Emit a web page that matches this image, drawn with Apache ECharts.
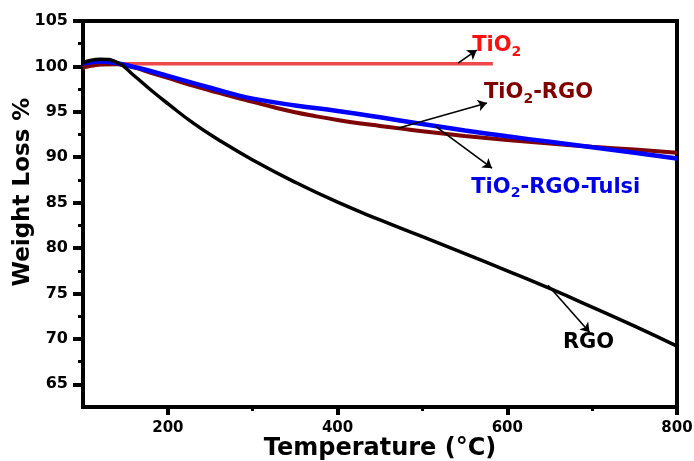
<!DOCTYPE html>
<html><head><meta charset="utf-8">
<script src="https://cdn.jsdelivr.net/npm/echarts@6/dist/echarts.min.js"></script>
<style>html,body{margin:0;padding:0;background:#fff}#c{width:694px;height:461px}</style>
</head><body><div id="c"></div>
<script>
// ---- data ----
const xTickLabels = [200, 400, 600, 800];
const xMinorTicks = [300, 500, 700];
const yTickLabels = [65, 70, 75, 80, 85, 90, 95, 100, 105];
const yMinorTicks = [67.5, 72.5, 77.5, 82.5, 87.5, 92.5, 97.5, 102.5];

const tempRGO = [100,120,140,160,180,200,230,260,300,350,400,450,500,550,600,650,700,750,800];
const weightRGO = [100.4,100.8,100.45,99.0,97.4,95.9,93.75,91.9,89.7,87.25,85.05,83.1,81.25,79.4,77.5,75.55,73.5,71.4,69.2];

const tempTulsi = [100,120,140,150,175,200,225,250,275,300,350,400,450,500,550,600,650,700,750,800];
const weightTulsi = [100.3,100.55,100.35,100.15,99.6,98.95,98.3,97.65,97.0,96.45,95.7,95.1,94.4,93.65,92.95,92.3,91.7,91.1,90.5,89.85];

const tempTiRGO = [100,120,140,160,180,200,225,250,275,300,325,350,375,400,425,450,475,500,550,600,650,700,750,800];
const weightTiRGO = [99.9,100.2,100.25,99.9,99.3,98.75,98.0,97.35,96.7,96.1,95.5,94.95,94.5,94.1,93.75,93.45,93.15,92.85,92.35,91.9,91.5,91.15,90.85,90.5];

const tempTiO2 = [100,110,120,135,150,200,300,400,500,583];
const weightTiO2 = [99.85,100.05,100.2,100.27,100.28,100.28,100.28,100.28,100.28,100.28];

// annotation arrows [from, to] in data coordinates
const arrowFrom = [[542,100.37],[471,93.2],[515,93.43],[648,75.9]];
const arrowTo   = [[564,101.8],[576,95.96],[582,88.8],[697,70.73]];
// annotation labels: left-middle anchor in data coordinates
const labelText  = ['{a|TiO}{s|2}', '{a|TiO}{s|2}{a|-RGO}', '{a|TiO}{s|2}{a|-RGO-Tulsi}', '{a|RGO}'];
const labelAt    = [[558,102.25],[572,97.07],[557,86.7],[665,69.63]];
const labelColor = ['#ff1010','#800000','#0000e6','#000000'];

const pairs = (xs, ys) => xs.map((x, i) => [x, ys[i]]);
const FONT = 'DejaVu Sans';

const chart = echarts.init(document.getElementById('c'), null, {renderer: 'canvas'});
const option = {
  animation: false,
  backgroundColor: '#fff',
  grid: {left: 83, right: 17, top: 21, bottom: 54, containLabel: false, outerBoundsMode: 'none',
         show: true, borderColor: '#000', borderWidth: 4, backgroundColor: 'transparent'},
  xAxis: [{
    type: 'value', min: 100, max: 800, position: 'bottom',
    name: 'Temperature (\u00B0C)', nameLocation: 'middle', nameGap: 30, nameMoveOverlap: false,
    nameTextStyle: {fontFamily: FONT, fontWeight: 'bold', fontSize: 24, color: '#000'},
    axisLine: {show: true, onZero: false, lineStyle: {color: '#000', width: 4}},
    axisTick: {show: true, customValues: xTickLabels, length: 8, lineStyle: {color: '#000', width: 4}},
    axisLabel: {customValues: xTickLabels, fontFamily: FONT, fontWeight: 'bold', fontSize: 15, color: '#000', margin: 14},
    splitLine: {show: false}
  }, {
    type: 'value', min: 100, max: 800, position: 'bottom',
    axisLine: {show: false},
    axisTick: {show: true, customValues: xMinorTicks, length: 4, lineStyle: {color: '#000', width: 3}},
    axisLabel: {show: false}, splitLine: {show: false}
  }],
  yAxis: [{
    type: 'value', min: 62.5, max: 105, position: 'left',
    name: 'Weight Loss %', nameLocation: 'middle', nameGap: 48, nameRotate: 90, nameMoveOverlap: false,
    nameTextStyle: {fontFamily: FONT, fontWeight: 'bold', fontSize: 23, color: '#000', padding: [0, 0, 0, 44]},
    axisLine: {show: true, onZero: false, lineStyle: {color: '#000', width: 4}},
    axisTick: {show: true, customValues: yTickLabels, length: 10, lineStyle: {color: '#000', width: 4}},
    axisLabel: {customValues: yTickLabels, fontFamily: FONT, fontWeight: 'bold', fontSize: 16, color: '#000', margin: 15},
    splitLine: {show: false}
  }, {
    type: 'value', min: 62.5, max: 105, position: 'left',
    axisLine: {show: false},
    axisTick: {show: true, customValues: yMinorTicks, length: 5, lineStyle: {color: '#000', width: 3}},
    axisLabel: {show: false}, splitLine: {show: false}
  }],
  series: [
    {
      name: 'TiO2', type: 'line', smooth: true, symbol: 'none',
      data: pairs(tempTiO2, weightTiO2),
      lineStyle: {color: '#f04848', width: 3.5}, z: 2
    },
    {
      name: 'TiO2-RGO', type: 'line', smooth: true, symbol: 'none',
      data: pairs(tempTiRGO, weightTiRGO),
      lineStyle: {color: '#7d0505', width: 4}, z: 3
    },
    {
      name: 'TiO2-RGO-Tulsi', type: 'line', smooth: true, symbol: 'none',
      data: pairs(tempTulsi, weightTulsi),
      lineStyle: {color: '#0000ff', width: 4.5}, z: 4
    },
    {
      name: 'RGO', type: 'line', smooth: true, symbol: 'none',
      data: pairs(tempRGO, weightRGO),
      lineStyle: {color: '#000', width: 3.5}, z: 5,
      markLine: {
        silent: true, animation: false,
        symbol: ['none', 'arrow'], symbolSize: 9,
        lineStyle: {color: '#000', width: 1.6, type: 'solid'},
        label: {show: false},
        emphasis: {disabled: true},
        data: arrowFrom.map((f, i) => [{coord: f}, {coord: arrowTo[i]}])
      },
      markPoint: {
        silent: true, animation: false,
        symbol: 'circle', symbolSize: 1,
        itemStyle: {color: 'rgba(0,0,0,0)'},
        data: labelAt.map((c, i) => ({
          coord: c,
          label: {
            show: true, position: 'right', distance: 0,
            formatter: labelText[i], color: labelColor[i],
            fontFamily: FONT, fontWeight: 'bold',
            rich: {
              a: {fontSize: 21, fontFamily: FONT, fontWeight: 'bold', color: labelColor[i]},
              s: {fontSize: 14, fontFamily: FONT, fontWeight: 'bold', color: labelColor[i], padding: [12, 0, 0, 0]}
            }
          }
        }))
      }
    }
  ]
};
chart.setOption(option);
</script>
</body></html>
